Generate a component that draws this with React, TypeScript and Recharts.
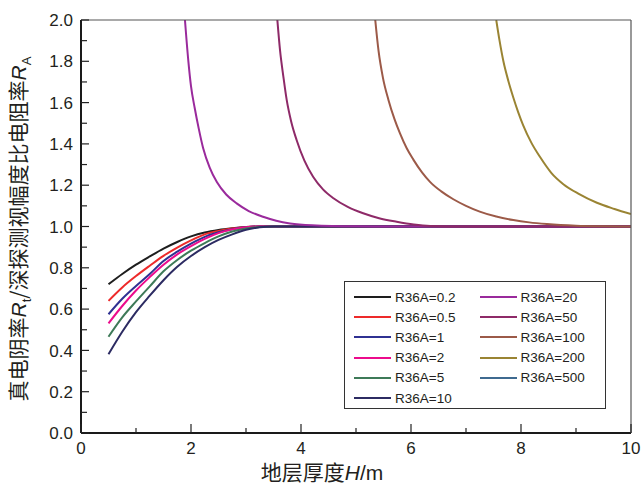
import { LineChart, Line, XAxis, YAxis, Legend } from 'recharts'

// low-resistivity curves share the same H samples
const xLow = [0.5, 0.75, 1, 1.25, 1.5, 1.75, 2, 2.25, 2.5, 2.75, 3, 3.25, 3.5, 10]
const r02 = [0.72, 0.77, 0.815, 0.855, 0.893, 0.925, 0.952, 0.971, 0.983, 0.991, 0.997, 1.0, 1.0, 1.0]
const r05 = [0.64, 0.705, 0.76, 0.81, 0.858, 0.898, 0.933, 0.962, 0.978, 0.99, 0.997, 1.0, 1.0, 1.0]
const r1 = [0.575, 0.65, 0.712, 0.77, 0.833, 0.878, 0.917, 0.95, 0.972, 0.987, 0.996, 1.0, 1.0, 1.0]
const r2 = [0.531, 0.615, 0.69, 0.755, 0.815, 0.865, 0.905, 0.94, 0.968, 0.986, 0.996, 1.0, 1.0, 1.0]
const r5 = [0.466, 0.56, 0.637, 0.71, 0.783, 0.838, 0.883, 0.92, 0.952, 0.976, 0.99, 0.998, 1.0, 1.0]
const r10 = [0.381, 0.49, 0.585, 0.665, 0.74, 0.805, 0.857, 0.9, 0.935, 0.962, 0.984, 0.996, 1.0, 1.0]

// high-resistivity curves, each with its own H samples
const x20 = [1.89, 1.95, 2.0, 2.07, 2.14, 2.22, 2.34, 2.47, 2.64, 2.83, 3.05, 3.31, 3.55, 3.8, 4.2, 5.0, 6.0, 10]
const r20 = [2.0, 1.806, 1.68, 1.57, 1.475, 1.38, 1.285, 1.215, 1.155, 1.112, 1.075, 1.047, 1.028, 1.015, 1.006, 1.001, 1.0, 1.0]
const x50 = [3.57, 3.62, 3.68, 3.74, 3.82, 3.92, 4.06, 4.22, 4.4, 4.59, 4.85, 5.13, 5.42, 5.74, 6.05, 6.35, 7.0, 10]
const r50 = [2.0, 1.85, 1.725, 1.613, 1.51, 1.419, 1.32, 1.241, 1.18, 1.137, 1.095, 1.064, 1.04, 1.023, 1.01, 1.003, 1.0, 1.0]
const x100 = [5.35, 5.41, 5.49, 5.59, 5.7, 5.8, 5.92, 6.04, 6.2, 6.35, 6.55, 6.77, 7.0, 7.25, 7.55, 7.86, 8.15, 8.47, 9.0, 9.5, 10]
const r100 = [2.0, 1.85, 1.72, 1.613, 1.52, 1.451, 1.38, 1.325, 1.262, 1.215, 1.17, 1.132, 1.1, 1.072, 1.048, 1.031, 1.02, 1.012, 1.004, 1.001, 1.0]
const x200 = [7.55, 7.61, 7.68, 7.77, 7.86, 7.95, 8.04, 8.19, 8.35, 8.55, 8.77, 9.05, 9.38, 9.7, 10]
const r200 = [2.0, 1.9, 1.8, 1.705, 1.625, 1.553, 1.49, 1.405, 1.335, 1.26, 1.205, 1.158, 1.115, 1.085, 1.06]
// R36A=500 stays above the plotted range
const x500: number[] = []
const r500: number[] = []

const xTicks = [0, 1, 2, 3, 4, 5, 6, 7, 8, 9, 10]
const yTicks = [0, 0.1, 0.2, 0.3, 0.4, 0.5, 0.6, 0.7, 0.8, 0.9, 1.0, 1.1, 1.2, 1.3, 1.4, 1.5, 1.6, 1.7, 1.8, 1.9, 2.0]

const toPts = (xs: number[], ys: number[]) => xs.map((x, i) => ({ x, y: ys[i] }))

const series = [
  { name: 'R36A=0.2', color: '#1e1e1e', data: toPts(xLow, r02) },
  { name: 'R36A=0.5', color: '#ed2a2a', data: toPts(xLow, r05) },
  { name: 'R36A=1', color: '#2f3192', data: toPts(xLow, r1) },
  { name: 'R36A=2', color: '#ec0b8c', data: toPts(xLow, r2) },
  { name: 'R36A=5', color: '#3e7a58', data: toPts(xLow, r5) },
  { name: 'R36A=10', color: '#2c2b62', data: toPts(xLow, r10) },
  { name: 'R36A=20', color: '#9a2a9c', data: toPts(x20, r20) },
  { name: 'R36A=50', color: '#8e2a68', data: toPts(x50, r50) },
  { name: 'R36A=100', color: '#9c5a48', data: toPts(x100, r100) },
  { name: 'R36A=200', color: '#9a8433', data: toPts(x200, r200) },
  { name: 'R36A=500', color: '#3f6a90', data: toPts(x500, r500) },
]

const FONT = '"Liberation Sans", Arial, sans-serif'
const CJK = '"Noto Sans CJK SC", "Liberation Sans", sans-serif'
const TXT = '#231f20'

const BottomTick = (p: any) => {
  const v = p.payload.value
  const major = v % 2 === 0
  return (
    <g>
      <line x1={p.x} x2={p.x} y1={p.y} y2={p.y - (major ? 9 : 5)} stroke="#222" strokeWidth={1.2} />
      {major && (
        <text x={p.x} y={p.y + 8} dy="0.75em" textAnchor="middle" fontSize={17} fontFamily={FONT} fill={TXT}>
          {v}
        </text>
      )}
    </g>
  )
}

const LeftTick = (p: any) => {
  const v = p.payload.value
  const major = Math.round(v * 10) % 2 === 0
  return (
    <g>
      <line x1={p.x} x2={p.x + (major ? 8 : 6)} y1={p.y} y2={p.y} stroke="#222" strokeWidth={1.2} />
      {major && (
        <text x={p.x - 8} y={p.y} dy="0.36em" textAnchor="end" fontSize={17} fontFamily={FONT} fill={TXT}>
          {v.toFixed(1)}
        </text>
      )}
    </g>
  )
}

const LegendBox = () => {
  const col1 = series.slice(0, 6)
  const col2 = series.slice(6)
  const renderCol = (items: typeof series) => (
    <div style={{ width: 130 }}>
      {items.map((s) => (
        <div key={s.name} style={{ display: 'flex', alignItems: 'center', height: 20.2 }}>
          <div style={{ width: 37, height: 2, background: s.color, marginRight: 4 }} />
          <span style={{ fontSize: 13.5, fontFamily: FONT, color: TXT }}>{s.name}</span>
        </div>
      ))}
    </div>
  )
  return (
    <div
      style={{
        boxSizing: 'border-box',
        width: 262,
        height: 128,
        border: '1.5px solid #333',
        background: '#fff',
        display: 'flex',
        padding: '5px 0 0 9px',
      }}
    >
      {renderCol(col1)}
      {renderCol(col2)}
    </div>
  )
}

export default function App() {
  return (
    <div style={{ position: 'absolute', left: 0, top: 0, width: 643, height: 486, background: '#fff' }}>
      <LineChart width={643} height={486} margin={{ top: 20, right: 12, bottom: 23, left: 0 }}>
        <XAxis
          xAxisId="x"
          type="number"
          dataKey="x"
          height={30}
          domain={[0, 10]}
          allowDataOverflow
          ticks={xTicks}
          interval={0}
          tickSize={0}
          tickMargin={0}
          tick={<BottomTick />}
          axisLine={{ stroke: '#1a1a1a', strokeWidth: 2 }}
        />
        <XAxis
          xAxisId="top"
          type="number"
          orientation="top"
          mirror
          domain={[0, 10]}
          allowDataOverflow
          ticks={xTicks}
          interval={0}
          tick={false}
          tickSize={3}
          tickLine={{ stroke: '#333' }}
          axisLine={{ stroke: '#555', strokeWidth: 1.2 }}
        />
        <YAxis
          yAxisId="y"
          type="number"
          width={81}
          domain={[0, 2]}
          allowDataOverflow
          ticks={yTicks}
          interval={0}
          tickSize={0}
          tickMargin={0}
          tick={<LeftTick />}
          axisLine={{ stroke: '#1a1a1a', strokeWidth: 2 }}
        />
        <YAxis
          yAxisId="right"
          type="number"
          orientation="right"
          mirror
          domain={[0, 2]}
          allowDataOverflow
          ticks={yTicks}
          interval={0}
          tick={false}
          tickSize={4}
          tickLine={{ stroke: '#333' }}
          axisLine={{ stroke: '#555', strokeWidth: 1.2 }}
        />
        {series.map((s) => (
          <Line
            key={s.name}
            xAxisId="x"
            yAxisId="y"
            data={s.data}
            dataKey="y"
            name={s.name}
            type="monotone"
            stroke={s.color}
            strokeWidth={2}
            dot={false}
            activeDot={false}
            isAnimationActive={false}
          />
        ))}
        <Legend
          layout="horizontal"
          align="center"
          verticalAlign="middle"
          content={<LegendBox />}
          wrapperStyle={{ left: 344, top: 281, width: 262, height: 128 }}
        />
      </LineChart>
      <div
        style={{
          position: 'absolute',
          left: 322,
          top: 472,
          transform: 'translate(-50%, -50%)',
          whiteSpace: 'nowrap',
          fontSize: 21,
          lineHeight: 1,
          fontFamily: CJK,
          color: TXT,
        }}
      >
        地层厚度<i style={{ fontFamily: FONT }}>H</i>
        <span style={{ fontFamily: FONT }}>/m</span>
      </div>
      <div
        style={{
          position: 'absolute',
          left: 20,
          top: 229,
          transform: 'translate(-50%, -50%) rotate(-90deg)',
          whiteSpace: 'nowrap',
          fontSize: 21,
          lineHeight: 1,
          fontFamily: CJK,
          color: TXT,
        }}
      >
        真电阴率<i style={{ fontFamily: FONT }}>R</i>
        <sub style={{ fontFamily: FONT, fontSize: 13 }}>t</sub>/深探测视幅度比电阻率<i style={{ fontFamily: FONT }}>R</i>
        <sub style={{ fontFamily: FONT, fontSize: 13 }}>A</sub>
      </div>
    </div>
  )
}
